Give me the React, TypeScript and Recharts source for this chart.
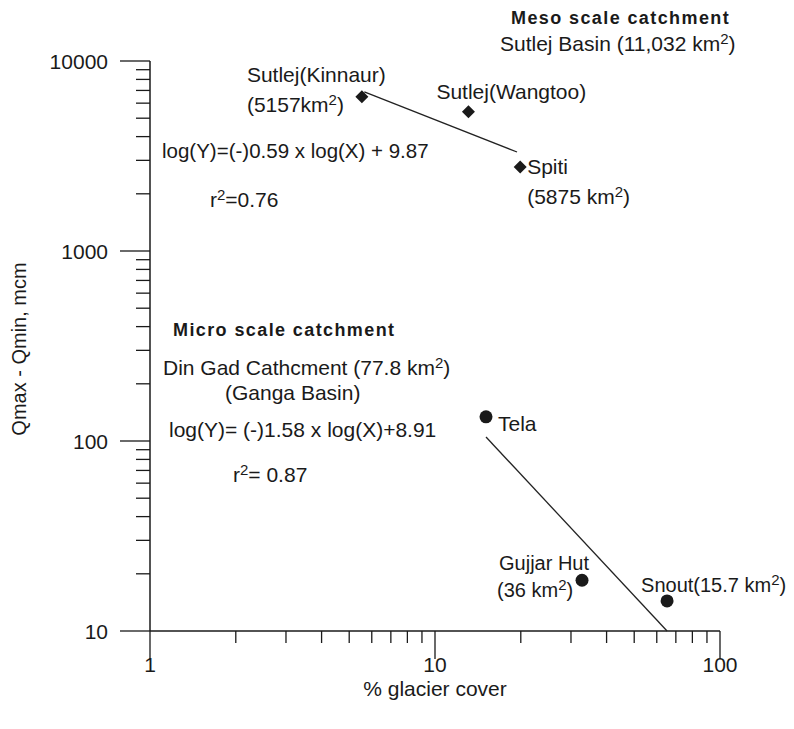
import React from 'react';
import { ScatterChart, Scatter, XAxis, YAxis, Label } from 'recharts';

const FONT = '"Liberation Sans", Arial, Helvetica, sans-serif';
const INK = '#1a1a1a';

// meso scale catchment (Sutlej basin): % glacier cover vs Qmax - Qmin (mcm)
const mesoNames = ['Sutlej(Kinnaur)', 'Sutlej(Wangtoo)', 'Spiti'];
const mesoCover = [5.54, 13.1, 19.9];
const mesoRange = [6480, 5400, 2770];

// micro scale catchment (Din Gad)
const microNames = ['Tela', 'Gujjar Hut', 'Snout'];
const microCover = [15.1, 32.8, 65.2];
const microRange = [134, 18.5, 14.4];

// regression lines, drawn between two end points
const mesoFitCover = [5.65, 19.4];
const mesoFitRange = [6870, 3320];
const microFitCover = [15.1, 65.2];
const microFitRange = [105, 10];

const xTicks = [1, 2, 3, 4, 5, 6, 7, 8, 9, 10, 20, 30, 40, 50, 60, 70, 80, 90, 100];
const xMajor = [1, 10, 100];
const yTicks = [
  10, 20, 30, 40, 50, 60, 70, 80, 90,
  100, 200, 300, 400, 500, 600, 700, 800, 900,
  1000, 2000, 3000, 4000, 5000, 6000, 7000, 8000, 9000, 10000,
];
const yMajor = [10, 100, 1000, 10000];

// text next to each point ("^2" marks a superscript 2)
const pointLabels: Record<string, { text: string; dx: number; dy: number; size?: number }[]> = {
  'Sutlej(Kinnaur)': [
    { text: 'Sutlej(Kinnaur)', dx: -115, dy: -15 },
    { text: '(5157km^2)', dx: -115, dy: 15 },
  ],
  'Sutlej(Wangtoo)': [{ text: 'Sutlej(Wangtoo)', dx: -32, dy: -13 }],
  Spiti: [
    { text: 'Spiti', dx: 7, dy: 7 },
    { text: '(5875 km^2)', dx: 7, dy: 37 },
  ],
  Tela: [{ text: 'Tela', dx: 12, dy: 14 }],
  'Gujjar Hut': [
    { text: 'Gujjar Hut', dx: -83, dy: -10, size: 20 },
    { text: '(36 km^2)', dx: -85, dy: 17, size: 20 },
  ],
  Snout: [{ text: 'Snout(15.7 km^2)', dx: -26, dy: -9, size: 20 }],
};

const meso = mesoNames.map((name, i) => ({ name, x: mesoCover[i], y: mesoRange[i] }));
const micro = microNames.map((name, i) => ({ name, x: microCover[i], y: microRange[i] }));
const mesoFit = mesoFitCover.map((x, i) => ({ x, y: mesoFitRange[i] }));
const microFit = microFitCover.map((x, i) => ({ x, y: microFitRange[i] }));

function Rich({ x, y, text, size = 21, ...rest }: any) {
  const [a, b] = text.split('^2');
  return (
    <text x={x} y={y} fontSize={size} fill={INK} fontFamily={FONT} {...rest}>
      {a}
      {b !== undefined && (
        <>
          <tspan dy={-7} fontSize={15}>2</tspan>
          <tspan dy={7}>{b}</tspan>
        </>
      )}
    </text>
  );
}

function PointLabels({ cx, cy, name }: any) {
  return (
    <>
      {(pointLabels[name] || []).map((l, i) => (
        <Rich key={i} x={cx + l.dx} y={cy + l.dy} text={l.text} size={l.size} />
      ))}
    </>
  );
}

const Diamond = (props: any) => {
  const { cx, cy, payload } = props;
  const r = 6.5;
  return (
    <g>
      <polygon points={`${cx},${cy - r} ${cx + r},${cy} ${cx},${cy + r} ${cx - r},${cy}`} fill={INK} />
      <PointLabels cx={cx} cy={cy} name={payload.name} />
    </g>
  );
};

const Dot = (props: any) => {
  const { cx, cy, payload } = props;
  return (
    <g>
      <circle cx={cx} cy={cy} r={6.5} fill={INK} />
      <PointLabels cx={cx} cy={cy} name={payload.name} />
    </g>
  );
};

const XTick = ({ x, y, payload }: any) => {
  const major = xMajor.includes(payload.value);
  return (
    <g>
      <line x1={x} x2={x} y1={y} y2={y + (major ? 28 : 12)} stroke={INK} strokeWidth={1.3} />
      {major && (
        <text x={x} y={y + 41} textAnchor="middle" fontSize={21} fill={INK} fontFamily={FONT}>
          {payload.value}
        </text>
      )}
    </g>
  );
};

const YTick = ({ x, y, payload }: any) => {
  const major = yMajor.includes(payload.value);
  return (
    <g>
      <line x1={x - (major ? 30 : 14)} x2={x} y1={y} y2={y} stroke={INK} strokeWidth={1.3} />
      {major && (
        <text x={x - 42} y={y} textAnchor="end" dominantBaseline="central" fontSize={21} fill={INK} fontFamily={FONT}>
          {payload.value}
        </text>
      )}
    </g>
  );
};

const YLabel = ({ viewBox }: any) => {
  const cy = viewBox.y + viewBox.height / 2 + 3;
  return (
    <text
      x={11}
      y={cy}
      transform={`rotate(-90 11 ${cy})`}
      textAnchor="middle"
      dominantBaseline="central"
      fontSize={20}
      fill={INK}
      fontFamily={FONT}
    >
      Qmax - Qmin, mcm
    </text>
  );
};

export default function App() {
  const W = 786;
  const H = 713;
  return (
    <div style={{ position: 'relative', width: W, height: H, fontFamily: FONT, background: '#fff' }}>
      <ScatterChart width={W} height={H} margin={{ top: 53, right: 74, left: 62, bottom: 20 }}>
        <XAxis
          dataKey="x"
          type="number"
          scale="log"
          domain={[1, 100]}
          ticks={xTicks}
          interval={0}
          height={70}
          tickSize={0}
          tickMargin={0}
          tickLine={false}
          tick={<XTick />}
          axisLine={{ stroke: INK, strokeWidth: 1.5 }}
        >
          <Label value="% glacier cover" position="insideBottom" offset={5} fontSize={21} fill={INK} fontFamily={FONT} />
        </XAxis>
        <YAxis
          dataKey="y"
          type="number"
          scale="log"
          domain={[10, 10000]}
          ticks={yTicks}
          interval={0}
          width={80}
          tickSize={0}
          tickMargin={0}
          tickLine={false}
          tick={<YTick />}
          axisLine={{ stroke: INK, strokeWidth: 1.5 }}
        >
          <Label content={<YLabel />} />
        </YAxis>
        <Scatter data={mesoFit} line={{ stroke: '#222', strokeWidth: 1.3 }} shape={() => <g />} isAnimationActive={false} />
        <Scatter data={microFit} line={{ stroke: '#222', strokeWidth: 1.3 }} shape={() => <g />} isAnimationActive={false} />
        <Scatter data={meso} shape={<Diamond />} isAnimationActive={false} />
        <Scatter data={micro} shape={<Dot />} isAnimationActive={false} />
      </ScatterChart>
      <svg width={W} height={H} style={{ position: 'absolute', left: 0, top: 0, pointerEvents: 'none' }}>
        <Rich x={503} y={16} text="Meso scale catchment" size={18} fontWeight="bold" letterSpacing={1.4} />
        <Rich x={492} y={43} text="Sutlej Basin (11,032 km^2)" />
        <Rich x={154} y={150} text="log(Y)=(-)0.59 x log(X) + 9.87" size={20.5} />
        <Rich x={202} y={199} text="r^2=0.76" />
        <Rich x={165} y={328} text="Micro scale catchment" size={18} fontWeight="bold" letterSpacing={1.4} />
        <Rich x={155} y={367} text="Din Gad Cathcment (77.8 km^2)" />
        <Rich x={217} y={392} text="(Ganga Basin)" />
        <Rich x={161} y={429} text="log(Y)= (-)1.58 x log(X)+8.91" />
        <Rich x={225} y={474} text="r^2= 0.87" />
      </svg>
    </div>
  );
}
